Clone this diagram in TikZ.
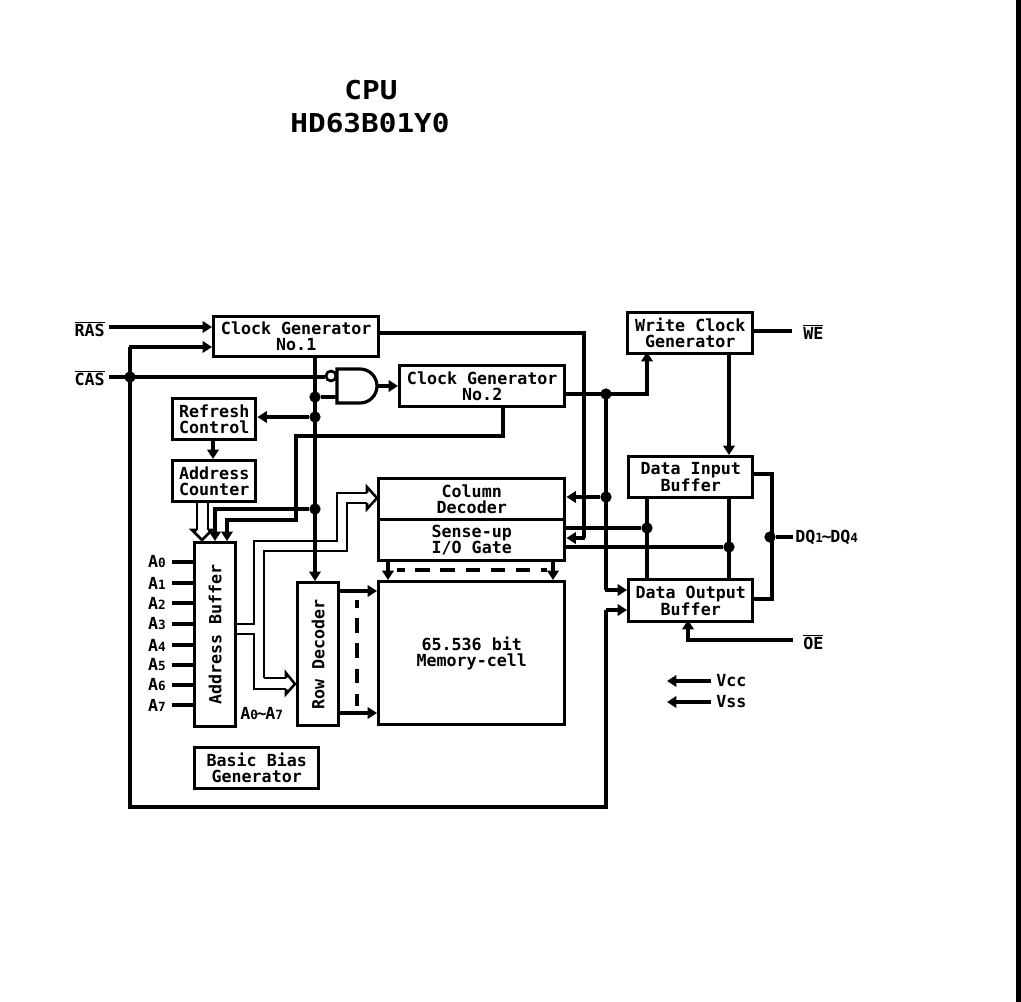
\documentclass[tikz,border=0pt]{standalone}
\usepackage{fontspec}
\setmainfont{DejaVu Sans Mono Bold}
\usetikzlibrary{arrows.meta,calc}
\tikzset{
  x=0.75pt,y=-0.75pt,
  wire/.style={line width=2.3pt,line join=miter},
  thickwire/.style={line width=2.8pt},
  thinwire/.style={line width=1.9pt},
  arr/.style={-{Triangle[length=7pt,width=8.5pt]}},
  blockbox/.style={draw,line width=2.6pt,inner sep=0pt,align=center,font=\fontsize{12.5}{12}\selectfont},
  lab/.style={inner sep=0pt,font=\fontsize{12.5}{13}\selectfont,align=center},
  biglab/.style={inner sep=0pt,font=\fontsize{19.5}{24}\selectfont},
  dot/.style={circle,fill,inner sep=0pt,minimum size=8.5pt},
  bubble/.style={circle,draw,fill=white,line width=2pt,inner sep=0pt,minimum size=7.5pt},
  hollow/.style={draw,fill=white,line width=1.9pt,line join=miter},
  dashwire/.style={line width=2.6pt,dash pattern=on 11pt off 7.8pt,dash phase=5pt},
}
\newcommand{\boxat}[6]{\node[blockbox,anchor=north west,minimum width=#4*0.75pt,minimum height=#5*0.75pt] (#1) at (#2,#3) {#6};}
\newcommand{\ov}[1]{$\overline{\hbox{#1}}$}
\newcommand{\sub}[1]{{\fontsize{9.5}{9}\selectfont #1}}
\begin{document}
\begin{tikzpicture}
\useasboundingbox (0,0) rectangle (1021,1002);
\fill[black] (1016,0) rectangle (1021,1002);

% title
\node[biglab] (title1) at (371,90) {\scalebox{1.13}[1]{CPU}};
\node[biglab] (title2) at (370,123) {\scalebox{1.13}[1]{HD63B01Y0}};

% boxes
\boxat{cg1}{212}{315}{165}{40}{Clock Generator\\No.1}
\boxat{cg2}{398}{364}{165}{41}{Clock Generator\\No.2}
\boxat{wc}{626}{311}{125}{41}{Write Clock\\Generator}
\boxat{rc}{171}{397}{83}{41}{Refresh\\Control}
\boxat{ac}{171}{459}{83}{41}{Address\\Counter}
\boxat{di}{627}{455}{124}{41}{Data Input\\Buffer}
\boxat{dO}{627}{578}{124}{42}{Data Output\\Buffer}
\boxat{cd}{377}{477}{186}{41}{Column\\Decoder}
\boxat{sg}{377}{518}{186}{41}{Sense-up\\I/O Gate}
\boxat{mem}{377}{580}{186}{143}{65.536 bit\\Memory-cell}
\boxat{bb}{193}{746}{124}{41}{Basic Bias\\Generator}
\node[blockbox,anchor=north west,minimum width=41*0.75pt,minimum height=184*0.75pt] (ab) at (193,541) {};
\node[lab,rotate=90] (abt) at (ab.center) {Address Buffer};
\node[blockbox,anchor=north west,minimum width=41*0.75pt,minimum height=143*0.75pt] (rd) at (296,581) {};
\node[lab,rotate=90] (rdt) at (rd.center) {Row Decoder};

% external labels
\node[lab,anchor=east] (ras) at (105,329) {\ov{RAS}};
\node[lab,anchor=east] (cas) at (105,378) {\ov{CAS}};
\node[lab,anchor=west] (we) at (803,332) {\ov{WE}};
\node[lab,anchor=west] (oe) at (803,642) {\ov{OE}};
\node[lab,anchor=west] (dq) at (795,537) {DQ\sub{1}\kern-1pt\char`\~\kern-1pt DQ\sub{4}};
\node[lab,anchor=west] (vcc) at (716,681) {Vcc};
\node[lab,anchor=west] (vss) at (716,702) {Vss};
\node[lab,anchor=west] (aa) at (240,714) {A\sub{0}\kern-1pt\char`\~\kern-1pt A\sub{7}};

% address pins
\foreach \n/\y in {0/562,1/583,2/603,3/624,4/645,5/665,6/685,7/705}{
  \node[lab,anchor=east] (a\n) at (166,\y) {A\sub{\n}};
  \draw[wire] (a\n.east -| 172,0) -- (ab.west |- a\n.east);
}

% RAS & CAS
\draw[wire,arr] (109,327) -- (cg1.west |- 0,327);
\coordinate (casj) at (130,377);
\coordinate (casin) at (325,377);
\draw[wire] (109,377) -- (casin);
\draw[thickwire,line cap=butt] (130,347) -- (130,807) -- (606,807) -- (606,610);
\draw[wire,arr] (606,610) -- (dO.west |- 0,610);
\draw[wire,arr] (129,347) -- (cg1.west |- 0,347);
\node[dot] (casd) at (casj) {};

% main vertical from CG1
\draw[thickwire,arr] (315,355) -- (rd.north -| 315,0);
\node[dot] (j1) at (315,397) {};
\node[dot] (j2) at (315,417) {};
\node[dot] (j3) at (315,509) {};
\draw[wire] (j1) -- (337,397);
\draw[wire,arr] (j2) -- (rc.east |- j2);
\draw[wire,arr] (213,438) -- (213,459);
\draw[wire,arr] (j3) -- (215,509) -- (215,541);

% NAND
\draw[line width=2.4pt,fill=white] (337,369) -- (360,369) arc (-90:90:17) -- (337,403) -- cycle;
\node[bubble] (nb) at (331,376) {};
\draw[wire,arr] (377,386) -- (cg2.west |- 0,386);

% CG2 return
\draw[wire,arr] (503,405) -- (503,436) -- (296,436) -- (296,520) -- (227,520) -- (227,541);

% counter to buffer (hollow)
\draw[thinwire] (197,500) -- (197,530);
\draw[thinwire] (208,500) -- (208,530);
\draw[hollow] (197,530) -- (192,530) -- (202,540) -- (212,530) -- (208,530);

% buffer to column decoder (hollow)
\draw[thinwire] (234,624) -- (254,624) -- (254,541) -- (337,541) -- (337,493) -- (367,493);
\draw[thinwire] (264,678) -- (264,551) -- (347,551) -- (347,503) -- (367,503);
\draw[hollow] (367,493) -- (367,487) -- (377,498) -- (367,509) -- (367,503);
% buffer to row decoder (hollow)
\draw[thinwire] (234,634) -- (254,634) -- (254,689) -- (286,689);
\draw[thinwire] (264,678) -- (286,678);
\draw[hollow] (286,678) -- (286,673) -- (295,684) -- (286,694) -- (286,689);

% row decoder to memory
\draw[wire,arr] (rd.east |- 0,591) -- (mem.west |- 0,591);
\draw[wire,arr] (rd.east |- 0,713) -- (mem.west |- 0,713);
\draw[dashwire] (357,600) -- (357,706);

% column to memory
\draw[wire,arr] (388,559) -- (388,580);
\draw[wire,arr] (553,559) -- (553,580);
\draw[dashwire] (397,570) -- (547,570);

% clock gen 1 to sense
\draw[wire] (cg1.east |- 0,333) -- (584,333) -- (584,538);
\draw[wire,arr] (585,538) -- (sg.east |- 0,538);

% clock gen 2 bus
\draw[wire,arr] (cg2.east |- 0,394) -- (647,394) -- (647,352);
\draw[thickwire] (606,394) -- (606,590);
\draw[wire,arr] (605,590) -- (dO.west |- 0,590);
\node[dot] (j4) at (606,394) {};
\node[dot] (j5) at (606,497) {};
\draw[wire,arr] (j5) -- (cd.east |- j5);

% data lines
\draw[wire] (647,496) -- (647,578);
\draw[wire] (729,496) -- (729,578);
\node[dot] (j6) at (647,528) {};
\node[dot] (j7) at (729,547) {};
\draw[wire] (sg.east |- j6) -- (j6);
\draw[wire] (sg.east |- j7) -- (j7);
\draw[wire,arr] (729,352) -- (729,455);
\draw[wire] (751,331) -- (792,331);

% DQ
\draw[wire] (751,474) -- (772,474) -- (772,599) -- (751,599);
\node[dot] (j8) at (770,537) {};
\draw[wire] (j8) -- (793,537);

% OE
\draw[wire,arr] (793,640) -- (688,640) -- (688,620);

% supply
\draw[wire,arr] (711,681) -- (667,681);
\draw[wire,arr] (711,702) -- (667,702);
\end{tikzpicture}
\end{document}
